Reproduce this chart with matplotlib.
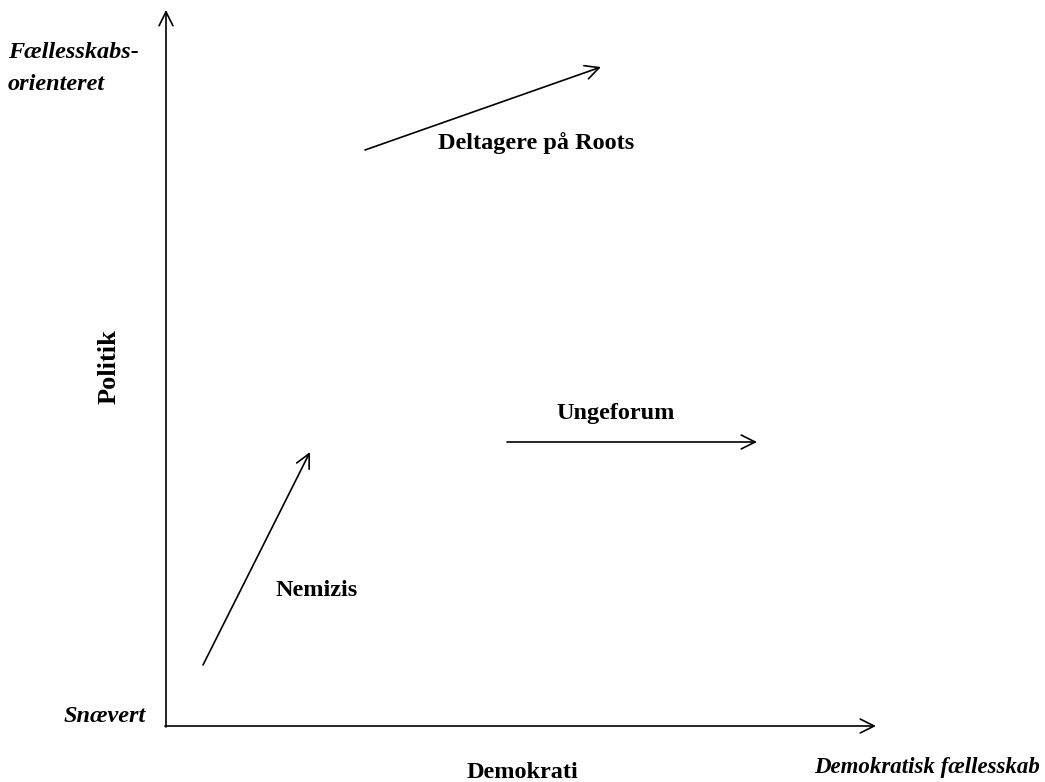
import matplotlib
matplotlib.use("Agg")
from matplotlib import pyplot as plt

# arrows (pixel positions, origin top-left)
arrow_names = ["Deltagere på Roots", "Ungeforum", "Nemizis"]
arrow_start = [(365, 150), (507, 442), (203, 665)]
arrow_end = [(601, 67), (757, 442), (310, 452)]
label_pos = [(536, 143), (616, 413), (317, 590)]

axis_origin = (166, 726)
axis_x_end = 876
axis_y_end = 10

plt.rcParams['font.family'] = ['Liberation Serif', 'DejaVu Serif']

fig = plt.figure(figsize=(10.45, 7.82), dpi=100)
ax = fig.add_axes([0, 0, 1, 1])
ax.set_xlim(0, 1045)
ax.set_ylim(782, 0)
ax.axis("off")

fs = 17.5
arrow_style = dict(arrowstyle="->,head_length=1.0,head_width=0.5", color="black", lw=1.2,
                   shrinkA=0, shrinkB=0)

# main axes
ax.annotate("", xy=(axis_x_end, axis_origin[1]), xytext=(axis_origin[0] - 1, axis_origin[1]),
            arrowprops=arrow_style)
ax.annotate("", xy=(axis_origin[0], axis_y_end), xytext=(axis_origin[0], axis_origin[1] + 1),
            arrowprops=arrow_style)

for name, s, e, p in zip(arrow_names, arrow_start, arrow_end, label_pos):
    ax.annotate("", xy=e, xytext=s, arrowprops=arrow_style)
    ax.text(p[0], p[1], name, ha="center", va="center", fontsize=fs, fontweight="bold")

# axis labels
ax.text(109, 367, "Politik", rotation=90, ha="center", va="center", fontsize=19, fontweight="bold")
ax.text(522, 773, "Demokrati", ha="center", va="center", fontsize=fs, fontweight="bold")
ax.text(1040, 767, "Demokratisk fællesskab", ha="right", va="center", fontsize=16.5,
        fontweight="bold", style="italic")
ax.text(8, 52, "Fællesskabs-", ha="left", va="center", fontsize=fs, fontweight="bold", style="italic")
ax.text(8, 85, "orienteret", ha="left", va="center", fontsize=fs, fontweight="bold", style="italic")
ax.text(146, 716, "Snævert", ha="right", va="center", fontsize=fs, fontweight="bold", style="italic")

fig.savefig("out.png", dpi=100)
